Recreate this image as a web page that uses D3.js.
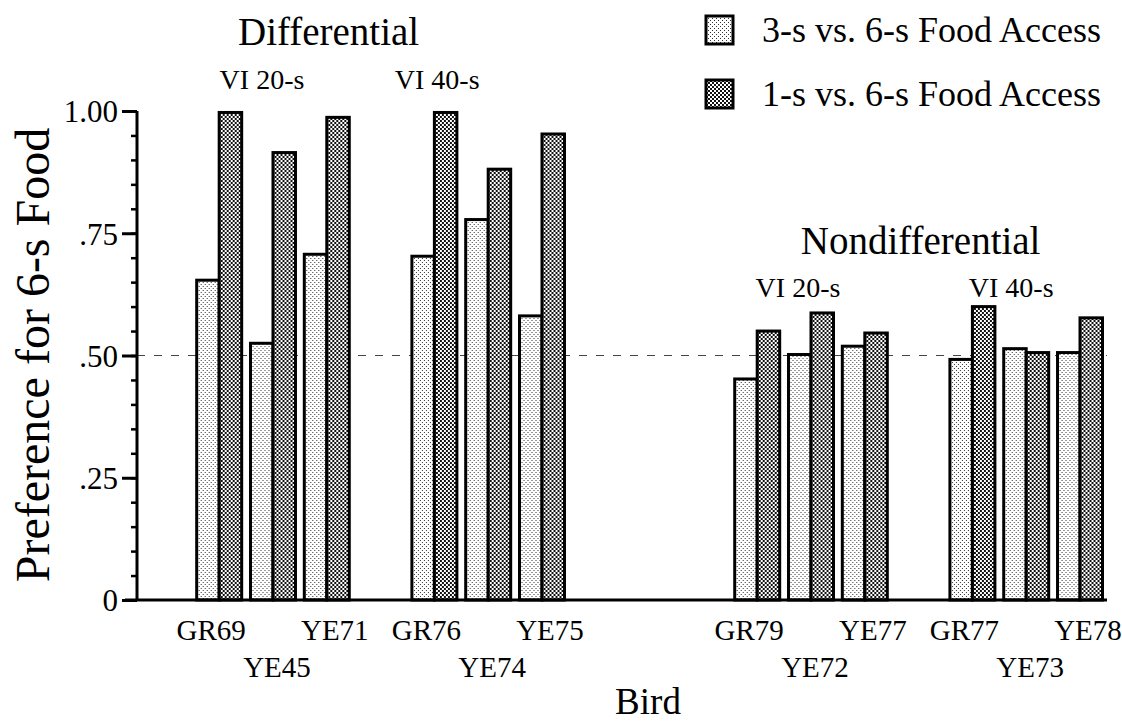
<!DOCTYPE html>
<html>
<head>
<meta charset="utf-8">
<script src="https://cdn.jsdelivr.net/npm/d3@7"></script>
<style>
  body { margin: 0; background: #fff; }
  svg { display: block; }
</style>
</head>
<body>
<svg id="chart" width="1122" height="724" font-family="Liberation Serif, serif"></svg>
<script>
// values
var conditions = ['Differential', 'Nondifferential'];
var schedules = ['VI 20-s', 'VI 40-s'];
var birds = ['GR69', 'YE45', 'YE71', 'GR76', 'YE74', 'YE75',
             'GR79', 'YE72', 'YE77', 'GR77', 'YE73', 'YE78'];
var shortAccess = [0.654, 0.525, 0.707, 0.703, 0.778, 0.581,
                   0.452, 0.502, 0.519, 0.492, 0.514, 0.506];
var longAccess = [0.997, 0.915, 0.987, 0.997, 0.881, 0.953,
                  0.550, 0.587, 0.546, 0.600, 0.506, 0.577];
var seriesNames = ['3-s vs. 6-s Food Access', '1-s vs. 6-s Food Access'];
var yTicks = [0, 0.25, 0.5, 0.75, 1];
var yTickLabels = ['0', '.25', '.50', '.75', '1.00'];

var serif = 'Liberation Serif, serif';
var svg = d3.select('#chart');

// slots: 3 birds per schedule, a gap after each schedule, a wider gap between conditions
var slots = [];
var b = 0;
conditions.forEach(function(c, ci) {
  schedules.forEach(function(s, si) {
    for (var k = 0; k < 3; k++) slots.push(birds[b++]);
    if (si < schedules.length - 1) slots.push('gap-' + ci + '-' + si);
  });
  if (ci < conditions.length - 1) {
    slots.push('gap-a'); slots.push('gap-b'); slots.push('gap-c');
  }
});

var x = d3.scaleBand()
  .domain(slots)
  .range([196.7, 1102.5])
  .paddingInner(0.164)
  .paddingOuter(0);

var xs = d3.scaleBand()
  .domain(['short', 'long'])
  .range([0, x.bandwidth()]);

var y = d3.scaleLinear()
  .domain([0, 1])
  .range([600, 111]);

var axisX = 137;

// fill patterns
var defs = svg.append('defs');
var light = defs.append('pattern')
  .attr('id', 'light').attr('patternUnits', 'userSpaceOnUse')
  .attr('width', 4).attr('height', 4);
light.append('rect').attr('width', 4).attr('height', 4).attr('fill', '#fff');
light.append('rect').attr('x', 0).attr('y', 0).attr('width', 1).attr('height', 1).attr('fill', '#333');
light.append('rect').attr('x', 2).attr('y', 2).attr('width', 1).attr('height', 1).attr('fill', '#333');

var dark = defs.append('pattern')
  .attr('id', 'dark').attr('patternUnits', 'userSpaceOnUse')
  .attr('width', 4).attr('height', 4);
dark.append('rect').attr('width', 4).attr('height', 4).attr('fill', '#fff');
dark.append('rect').attr('x', 0).attr('y', 0).attr('width', 2).attr('height', 2).attr('fill', '#111');
dark.append('rect').attr('x', 2).attr('y', 2).attr('width', 2).attr('height', 2).attr('fill', '#111');

// dashed reference line at .50
svg.append('line')
  .attr('x1', axisX).attr('x2', 1107)
  .attr('y1', y(0.5)).attr('y2', y(0.5))
  .attr('stroke', '#444').attr('stroke-width', 1)
  .attr('stroke-dasharray', '8,9');

// bars
var rows = birds.map(function(d, i) {
  return { bird: d, short: shortAccess[i], long: longAccess[i] };
});

var barG = svg.append('g').selectAll('g')
  .data(rows)
  .join('g')
  .attr('transform', function(d) { return 'translate(' + x(d.bird) + ',0)'; });

barG.selectAll('rect')
  .data(function(d) {
    return [{ key: 'short', v: d.short }, { key: 'long', v: d.long }];
  })
  .join('rect')
  .attr('x', function(d) { return xs(d.key); })
  .attr('y', function(d) { return y(d.v); })
  .attr('width', xs.bandwidth())
  .attr('height', function(d) { return y(0) - y(d.v); })
  .attr('fill', function(d) { return d.key === 'short' ? 'url(#light)' : 'url(#dark)'; })
  .attr('stroke', '#000')
  .attr('stroke-width', 3);

// y axis: minor ticks every .05, major every .25
var minor = d3.range(0, 1.0001, 0.05);
svg.append('g')
  .attr('transform', 'translate(' + axisX + ',0)')
  .call(d3.axisLeft(y).tickValues(minor).tickSize(6).tickFormat(''))
  .call(function(g) {
    g.select('.domain').remove();
    g.selectAll('line').attr('stroke-width', 2.5);
  });

svg.append('g')
  .attr('transform', 'translate(' + axisX + ',0)')
  .call(d3.axisLeft(y).tickValues(yTicks).tickSize(15).tickPadding(4)
    .tickFormat(function(d, i) { return yTickLabels[i]; }))
  .call(function(g) {
    g.attr('font-family', serif).attr('font-size', 31);
    g.select('.domain').attr('stroke-width', 3)
      .attr('d', 'M0,' + y(1) + 'V' + y(0));
    g.selectAll('line').attr('stroke-width', 3);
    g.selectAll('text').attr('dy', '0.35em');
  });

// x axis baseline
svg.append('line')
  .attr('x1', axisX - 12).attr('x2', 1107)
  .attr('y1', y(0)).attr('y2', y(0))
  .attr('stroke', '#000').attr('stroke-width', 3);

// bird labels, middle bird of each triple on the second row
var labelShift = [-8, 4, 8];
svg.append('g').selectAll('text')
  .data(birds)
  .join('text')
  .attr('x', function(d, i) { return x(d) + x.bandwidth() / 2 + labelShift[i % 3]; })
  .attr('y', function(d, i) { return i % 3 === 1 ? 677 : 640; })
  .attr('text-anchor', 'middle')
  .attr('font-size', 29)
  .text(function(d) { return d; });

// condition and schedule headings
function groupCenter(first, last) {
  return (x(birds[first]) + x(birds[last]) + x.bandwidth()) / 2;
}
var heads = [
  { t: conditions[0], cx: groupCenter(0, 5) - 52, y: 45, size: 39 },
  { t: schedules[0], cx: groupCenter(0, 2) - 11, y: 89, size: 28 },
  { t: schedules[1], cx: groupCenter(3, 5) - 51, y: 89, size: 28 },
  { t: conditions[1], cx: groupCenter(6, 11) + 2, y: 254, size: 39 },
  { t: schedules[0], cx: groupCenter(6, 8) - 13, y: 297, size: 28 },
  { t: schedules[1], cx: groupCenter(9, 11) - 15, y: 297, size: 28 }
];
svg.append('g').selectAll('text')
  .data(heads)
  .join('text')
  .attr('x', function(d) { return d.cx; })
  .attr('y', function(d) { return d.y; })
  .attr('text-anchor', 'middle')
  .attr('font-size', function(d) { return d.size; })
  .text(function(d) { return d.t; });

// axis titles
svg.append('text')
  .attr('transform', 'translate(49,355) rotate(-90)')
  .attr('text-anchor', 'middle')
  .attr('font-size', 48)
  .text('Preference for 6-s Food');

svg.append('text')
  .attr('x', 648).attr('y', 714)
  .attr('text-anchor', 'middle')
  .attr('font-size', 37)
  .text('Bird');

// legend
var legend = svg.append('g').selectAll('g')
  .data(seriesNames)
  .join('g')
  .attr('transform', function(d, i) { return 'translate(706,' + (16 + i * 64) + ')'; });

legend.append('rect')
  .attr('width', 27).attr('height', 28)
  .attr('fill', function(d, i) { return i === 0 ? 'url(#light)' : 'url(#dark)'; })
  .attr('stroke', '#000').attr('stroke-width', 3);

legend.append('text')
  .attr('x', 56).attr('y', 26)
  .attr('font-size', 36)
  .text(function(d) { return d; });
</script>
</body>
</html>
